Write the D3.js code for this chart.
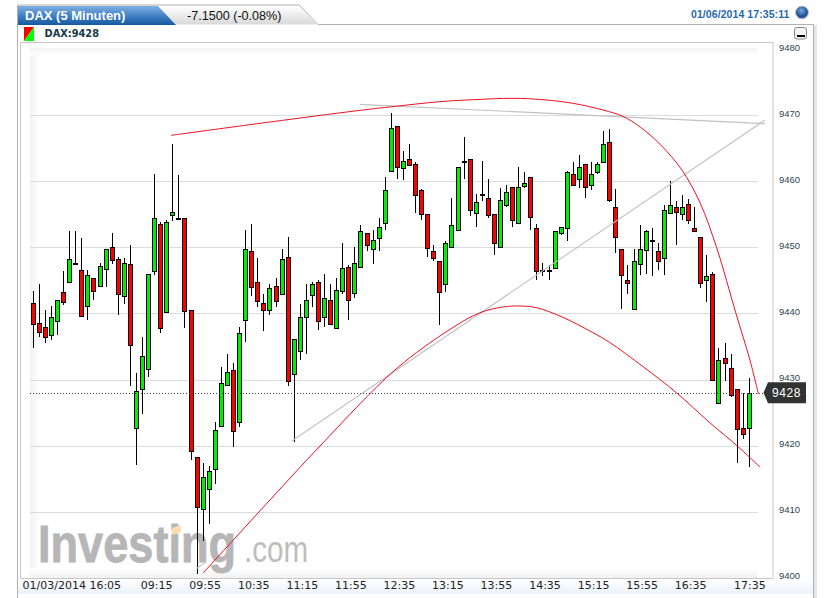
<!DOCTYPE html>
<html>
<head>
<meta charset="utf-8">
<script src="https://cdnjs.cloudflare.com/ajax/libs/d3/7.8.5/d3.min.js"></script>
<style>
html,body{margin:0;padding:0;background:#fff;overflow:hidden}
svg{display:block}
</style>
</head>
<body>
<svg id="c" width="827" height="598"></svg>
<script>
const opens = [9441.5,9438.5,9437.9,9436.8,9438.8,9443.3,9444.8,9447.6,9446.5,9441.1,9445.3,9444.1,9446.8,9450,9448.3,9442.6,9447.4,9422.7,9428.5,9431.5,
9446.5,9453.5,9440.3,9454.9,9454.5,9454.4,9440.5,9418.3,9410.5,9413.5,9416.5,9423,9429.2,9431.5,9423.5,9439.1,9449.5,9444.8,9441.5,9440.5,
9444.1,9443,9448.6,9430.8,9434.4,9439.4,9442.9,9444.8,9439.4,9442,9437.7,9443.3,9447,9443,9447,9452.1,9449.8,9451.4,9453.6,9461.5,
9468.3,9462,9463.3,9462.6,9458.6,9455,9449.5,9448,9444.4,9450,9452.6,9463.1,9463.3,9455.2,9458,9457.4,9455,9450,9456.3,9459.1,
9453.6,9459.4,9460.6,9452.9,9446.5,9446.5,9446.8,9452.1,9452.9,9461.1,9460.3,9462.6,9459.5,9461.4,9462.9,9465.9,9456.1,9449.8,9445,9440.6,
9447.6,9449.5,9451.1,9449.5,9448.3,9455.2,9456.1,9455,9456.5,9452.9,9451.5,9445,9445.9,9426.5,9433.3,9431.8,9428.5,9422.7,9422.7];
const highs = [9443.4,9444.5,9440.5,9441.1,9442,9446.4,9452.4,9452.4,9451.4,9446.5,9445.3,9447.6,9449.8,9452.1,9448.5,9448.4,9450.4,9431,9436.4,9445.9,
9461.1,9453.8,9454.1,9465.6,9460.9,9454.4,9440.5,9418.3,9417.3,9416.9,9423.5,9431.9,9433.9,9432.5,9437.9,9452.6,9453.6,9448.4,9442.9,9444.5,
9445.3,9449.8,9451.6,9436.1,9441.4,9444.4,9444.7,9445,9445.9,9444.4,9445.3,9450.6,9447.3,9450.1,9453.3,9452.1,9452.6,9454.4,9460.6,9470.3,
9468.3,9464.5,9465.6,9462.9,9458.8,9455,9450.3,9448,9450.9,9457.4,9462.1,9466.7,9463.3,9458,9463,9460.4,9455,9458.9,9459.5,9459.1,
9462.1,9461.4,9460.6,9453.6,9447.6,9447.3,9452.4,9453.1,9461.5,9462.9,9463.9,9462.6,9462.9,9462.9,9467.6,9467.9,9458.8,9449.8,9447.3,9449.8,
9453.3,9452.6,9452.9,9450.6,9456.4,9460,9457,9457.9,9457.3,9456.1,9451.5,9448.8,9446.3,9434.7,9435.5,9433.8,9428.5,9427.9,9430.3];
const lows = [9434.7,9436.5,9435.5,9436,9436.8,9441.3,9444.8,9447.4,9439.5,9439,9442,9444.1,9444,9447.5,9439.8,9441.4,9429,9417,9424.8,9430.4,
9445.8,9437,9440.3,9454,9454.3,9437.8,9417.8,9400.6,9405.6,9408.1,9414.2,9423,9429.2,9419.8,9422.8,9435.6,9442.6,9440.9,9437.3,9439.8,
9441,9443,9429,9420.6,9433,9433.8,9440.9,9437.5,9438,9438.3,9437.7,9443,9439,9442.4,9447,9449.5,9447.4,9449.4,9452.6,9461.5,
9460.4,9460.2,9462.4,9455.2,9454.1,9448.5,9448,9438.3,9443.3,9450,9452.6,9460.4,9454.8,9453.1,9457,9454.5,9448.8,9450,9456.1,9453,
9453.6,9459,9452.6,9445,9445.6,9445,9446.8,9451.8,9450.9,9459.5,9458.9,9457.4,9458.6,9461.1,9462.9,9456.9,9449.1,9440.6,9443,9440.6,
9445.8,9446,9445.6,9446.6,9445.8,9455.2,9450.4,9454.2,9453.5,9452.4,9443.9,9441.8,9429.8,9426.5,9429.8,9427.4,9417.3,9421,9416.8];
const closes = [9438.3,9437.2,9436.4,9439.5,9442,9441.8,9448.3,9447.4,9439.5,9445.8,9443.3,9447.1,9449.8,9448,9443,9447.6,9435.2,9428.3,9433.5,9445.9,
9454.5,9437.7,9453.9,9455.3,9454.3,9440.3,9419.2,9410.8,9415.3,9416.2,9422.4,9429.5,9431.1,9422.3,9437,9449.8,9444.1,9441.9,9440.5,9443.8,
9441.9,9448.3,9429.8,9436.1,9439.5,9442,9444.5,9438.9,9442.3,9438.3,9443.5,9446.8,9442,9447.6,9452.4,9450.3,9451.1,9453,9458.6,9468,
9462.1,9463,9462.4,9457.9,9455,9449.8,9448.5,9443.3,9450.6,9453.3,9462.1,9462.9,9455.6,9456.8,9457.9,9454.8,9450.6,9457.1,9458.3,9454.1,
9459.1,9459.8,9454.5,9446.4,9446.4,9446.4,9452.4,9453,9461.4,9459.5,9462.1,9459.1,9461.1,9462.6,9465.6,9457.1,9451.5,9445.9,9444.5,9447.9,
9449.8,9452.4,9451,9448,9455.6,9456.4,9455.3,9456.1,9454.1,9452.4,9444.5,9445.6,9429.8,9433,9432.6,9427.7,9422.4,9421.8,9428];

const upperCurve = [[22.7,9466.94],[41.5,9469.26],[54.3,9470.77],[59.1,9471.27],[67,9472.03],[72.5,9472.33],[79.05,9472.54],[84,9472.33],[88.9,9471.79],[93.9,9470.77],[97.2,9469.8],[100,9468.2],[103.3,9465.58],[106.9,9461.69],[109.9,9456.7],[112.6,9450],[115.8,9440],[118.1,9432.95],[119.5,9427.8]];
const lowerCurve = [[28,9400.73],[39,9411.77],[47.25,9419.94],[59.6,9431.44],[68.7,9437.6],[73.6,9440.1],[77.4,9440.97],[80.2,9441.12],[83,9440.85],[87.3,9439.4],[92.2,9437.1],[95,9435.6],[100.5,9431.94],[106,9428],[111.5,9423.46],[115.9,9420.04],[119.8,9416.72]];
const grayFlat = [[53.8,9471.63],[120.6,9468.7]];
const grayDiagonal = [[42.6,9420.7],[120.6,9469.26]];
const grayShort = [[26.9,9401.4],[28.3,9402.3]];

const yTicks = [9480,9470,9460,9450,9440,9430,9420,9410,9400];
const gridTicks = [9470,9460,9450,9440,9430,9420,9410];
const timeIdx = [0,20,28,36,44,52,60,68,76,84,92,100,108,119];
const timeLabels = ["01/03/2014 16:05","09:15","09:55","10:35","11:15","11:55","12:35","13:15","13:55","14:35","15:15","15:55","16:35","17:35"];
const lastPrice = 9428;

const svg = d3.select("#c");
const x = d3.scaleLinear().domain([0,118]).range([33.3,749.3]);
const y = d3.scaleLinear().domain([9400,9480]).range([577.8,49]);
const defs = svg.append("defs");
function grad(id,x2,y2,stops){
  const g = defs.append("linearGradient").attr("id",id).attr("x1",0).attr("y1",0).attr("x2",x2).attr("y2",y2);
  stops.forEach(s=>g.append("stop").attr("offset",s[0]).attr("stop-color",s[1]));
}
grad("gBlue",0,1,[[0,"#7fb0e2"],[0.5,"#4482c4"],[1,"#14589f"]]);
grad("gGray",0,1,[[0,"#ffffff"],[1,"#d8d8d8"]]);
grad("gLeft",1,0,[[0,"#f2f2f2"],[1,"#ffffff"]]);
grad("gTop",0,1,[[0,"#f2f2f2"],[1,"#ffffff"]]);
grad("gBot",0,1,[[0,"#ffffff"],[1,"#f1f1f1"]]);
grad("gStrip",0,1,[[0,"#ffffff"],[1,"#ebf2fb"]]);
const ball = defs.append("radialGradient").attr("id","gBall").attr("cx",0.45).attr("cy",0.35).attr("r",0.65);
ball.append("stop").attr("offset",0).attr("stop-color","#7aa7dc");
ball.append("stop").attr("offset",0.7).attr("stop-color","#1d4f98");
ball.append("stop").attr("offset",1).attr("stop-color","#5d6f8c");

// outer frame
svg.append("rect").attr("x",814).attr("y",25).attr("width",3).attr("height",573).attr("fill","#e6e6e6");
svg.append("path").attr("d","M17.5,598V5H299L318,24.5H813.5V598").attr("fill","none").attr("stroke","#b0b0b0");
// tabs
svg.append("path").attr("d","M158,6H299L317,24.5H176Z").attr("fill","url(#gGray)");
svg.append("path").attr("d","M18,6H158L176,25H18Z").attr("fill","url(#gBlue)");
svg.append("text").text("DAX (5 Minuten)").attr("x",25).attr("y",19.5)
  .attr("font-family","Liberation Sans").attr("font-weight","bold").attr("font-size",13).attr("fill","#fff");
svg.append("text").text("-7.1500 (-0.08%)").attr("x",187).attr("y",19.5)
  .attr("font-family","Liberation Sans").attr("font-size",12.6).attr("fill","#111");
svg.append("text").text("01/06/2014 17:35:11").attr("x",691).attr("y",18)
  .attr("font-family","Liberation Sans").attr("font-weight","bold").attr("font-size",10.5).attr("letter-spacing",0.08).attr("fill","#2a68ad");
svg.append("circle").attr("cx",802).attr("cy",12.5).attr("r",6.5).attr("fill","url(#gBall)").attr("stroke","#c4c8d0");
// header row
svg.append("path").attr("d","M24,27H34L24,41Z").attr("fill","#f00");
svg.append("path").attr("d","M34,27V41H24Z").attr("fill","#0f0");
svg.append("text").text("DAX:9428").attr("x",44.5).attr("y",37)
  .attr("font-family","DejaVu Sans").attr("font-weight","bold").attr("font-size",9.8).attr("fill","#173a45");
svg.append("rect").attr("x",794.5).attr("y",27.5).attr("width",12).attr("height",11.5).attr("rx",2.5).attr("fill","#f4f4f4").attr("stroke","#888");
svg.append("rect").attr("x",797).attr("y",35).attr("width",8).attr("height",2).attr("fill","#000");

// plot frame
svg.append("rect").attr("x",20.5).attr("y",42.5).attr("width",752.5).attr("height",536).attr("fill","#fff").attr("stroke","#c8c8c8");
svg.append("rect").attr("x",30).attr("y",48).attr("width",10).attr("height",530).attr("fill","url(#gLeft)");
svg.append("rect").attr("x",30).attr("y",48).attr("width",728).attr("height",7).attr("fill","url(#gTop)");
svg.append("rect").attr("x",30).attr("y",568).attr("width",728).attr("height",10).attr("fill","url(#gBot)");
svg.append("rect").attr("x",18).attr("y",579).attr("width",795).attr("height",15).attr("fill","url(#gStrip)");

// watermark
const wm = svg.append("g");
wm.append("text").text("Investing").attr("transform","translate(38,562) scale(0.885,1)")
  .attr("font-family","Liberation Sans").attr("font-weight","bold").attr("font-size",51)
  .attr("stroke","#b6b6b6").attr("stroke-width",0.8).attr("fill","#b6b6b6");
wm.append("path").attr("d","M172,528L181,525V532L172,535Z").attr("fill","#fbdcaa");
wm.append("text").text(".com").attr("transform","translate(244,562) scale(0.8,1)")
  .attr("font-family","Liberation Sans").attr("font-size",37).attr("fill","#bdbdbd");

// grid
svg.append("g").selectAll("line").data(gridTicks).join("line")
  .attr("x1",30).attr("x2",758)
  .attr("y1",d=>Math.round(y(d))+0.5).attr("y2",d=>Math.round(y(d))+0.5)
  .attr("stroke","#dcdcdc");

// axes
const yAxis = d3.axisRight(y).tickValues(yTicks).tickFormat(d3.format("d")).tickSize(0).tickPadding(0);
const yg = svg.append("g").attr("transform","translate(779,-2)").call(yAxis);
yg.select(".domain").remove();
yg.selectAll("text").attr("font-family","Liberation Sans").attr("font-size",9.5).attr("fill","#2b4650");

const xAxis = d3.axisBottom(x).tickValues(timeIdx).tickFormat(d=>timeLabels[timeIdx.indexOf(d)]).tickSize(0).tickPadding(0);
const xg = svg.append("g").attr("transform","translate(1.5,581)").call(xAxis);
xg.select(".domain").remove();
xg.selectAll("text").attr("font-family","DejaVu Sans").attr("font-size",11).attr("fill","#222");
xg.selectAll(".tick").filter((d,i)=>i===0).select("text").attr("text-anchor","start").attr("x",-12.8);
xg.selectAll(".tick").filter((d,i)=>i===timeIdx.length-1).select("text").attr("x",-7.5);

// candles
const idx = d3.range(opens.length);
const cx = i=>Math.floor(x(i))+0.5;
const gC = svg.append("g");
gC.selectAll("line").data(idx).join("line")
  .attr("x1",cx).attr("x2",cx)
  .attr("y1",i=>y(highs[i])).attr("y2",i=>y(lows[i]))
  .attr("stroke","#000").attr("shape-rendering","crispEdges");
gC.selectAll("rect").data(idx).join("rect")
  .attr("x",i=>cx(i)-2).attr("width",4)
  .attr("y",i=>Math.round(y(Math.max(opens[i],closes[i])))+0.5)
  .attr("height",i=>Math.max(1,Math.round(Math.abs(opens[i]-closes[i])*6.61)))
  .attr("fill",i=>closes[i]>=opens[i]?"#00ee00":"#ff0000")
  .attr("stroke","#000");

// last price
svg.append("line").attr("x1",30).attr("x2",766)
  .attr("y1",Math.round(y(lastPrice))+0.5).attr("y2",Math.round(y(lastPrice))+0.5)
  .attr("stroke","#444").attr("stroke-dasharray","1,2");

// trend lines
const lineGen = d3.line().x(d=>x(d[0])).y(d=>y(d[1]));
const curveGen = d3.line().x(d=>x(d[0])).y(d=>y(d[1])).curve(d3.curveCatmullRom);
[grayFlat,grayDiagonal,grayShort].forEach(p=>svg.append("path").attr("d",lineGen(p)).attr("fill","none").attr("stroke","#c2c2c2").attr("stroke-width",1.1));
[upperCurve,lowerCurve].forEach(p=>svg.append("path").attr("d",curveGen(p)).attr("fill","none").attr("stroke","#ee1122"));

// price flag
const py = y(lastPrice);
svg.append("path").attr("d",`M763.5,${py}L768,${py-10.5}H806V${py+10.5}H768Z`).attr("fill","#333");
svg.append("text").text(lastPrice).attr("x",772).attr("y",py+4.5)
  .attr("font-family","Liberation Sans").attr("font-size",12).attr("letter-spacing",0.6).attr("fill","#fff");
</script>
</body>
</html>
